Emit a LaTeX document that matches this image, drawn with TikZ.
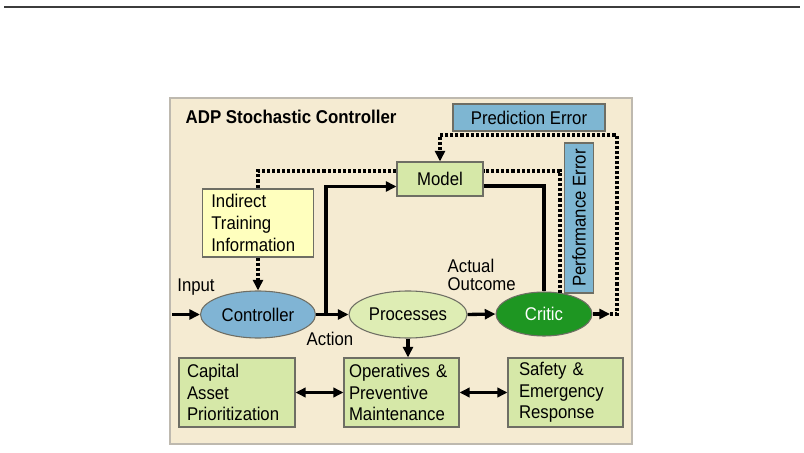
\documentclass[tikz,border=0pt]{standalone}
\usepackage{fontspec}
\setmainfont{Liberation Sans}[FakeStretch=0.91]
\usepackage{xcolor}
\usepackage{tikz}
\usetikzlibrary{shapes.geometric,arrows.meta,calc}

\definecolor{panelbg}{RGB}{245,235,210}
\definecolor{panelline}{RGB}{190,185,175}
\definecolor{boxline}{RGB}{110,110,100}
\definecolor{errblue}{RGB}{126,182,210}
\definecolor{ctrlblue}{RGB}{128,180,212}
\definecolor{unitgreen}{RGB}{214,232,168}
\definecolor{procgreen}{RGB}{222,237,180}
\definecolor{criticgreen}{RGB}{30,150,34}
\definecolor{infoyellow}{RGB}{255,255,190}

\tikzset{
  block/.style={draw=boxline, line width=0.8pt, inner ysep=0pt},
  errbox/.style={block, fill=errblue, inner xsep=0pt, minimum height=20.25pt},
  unitbox/.style={block, fill=unitgreen, align=left, minimum height=51.75pt,
    font=\fontsize{13.8}{16.1}\selectfont},
  blob/.style={ellipse, draw=boxline, line width=0.8pt, inner sep=0pt},
  flow/.style={line width=2.5pt, -{Triangle[length=8pt,width=7.5pt]}},
  twoway/.style={line width=2.5pt, {Triangle[length=7.5pt,width=7pt]}-{Triangle[length=7.5pt,width=7pt]}},
  link/.style={line width=2.5pt},
  fb/.style={line width=2.7pt, dash pattern=on 2.3pt off 1.5pt},
}

\begin{document}
\begin{tikzpicture}[x=0.75pt,y=0.75pt,yscale=-1,xscale=1,
    font=\fontsize{13.8}{16}\selectfont]
        \useasboundingbox (0,0) rectangle (804,453);
        \draw [color={rgb, 255:red, 60; green, 60; blue, 60 }, line width=1pt] (4,7) -- (800,7) ;
        \draw [fill=panelbg, draw=panelline, line width=0.8pt] (170,98) rectangle (632,444) ;

        % boxes and ellipses
        \node [anchor=west, font=\fontsize{13.9}{16}\selectfont\bfseries] (title) at (181,117) {ADP Stochastic Controller};
        \node [errbox, minimum width=114pt] (pred) at (529,117.5) {Prediction Error};
        \node [errbox, rotate=90, minimum width=112.5pt, minimum height=21.75pt] (perf) at (579,218) {Performance Error};
        \node [block, fill=unitgreen, minimum width=64.5pt, minimum height=25.5pt] (model) at (440,179) {Model};
        \node [block, fill=infoyellow, align=left, text width=70pt, inner xsep=6.5pt, minimum height=51pt,
               font=\fontsize{13.8}{16.5}\selectfont] (info) at (258,223) {Indirect\\Training\\Information};
        \node [blob, fill=ctrlblue, minimum width=86.25pt, minimum height=35.25pt] (ctrl) at (258,314.5) {Controller};
        \node [blob, fill=procgreen, minimum width=88.5pt, minimum height=35.25pt] (proc) at (408,314.5) {Processes};
        \node [blob, fill=criticgreen, text=white, minimum width=72pt, minimum height=33pt] (critic) at (544,314) {Critic};
        \node [unitbox, text width=75pt, inner xsep=6pt] (capital) at (237,392.5) {Capital\\Asset\\Prioritization};
        \node [unitbox, text width=78.75pt, inner xsep=3.75pt] (ops) at (401.5,392.5) {Operatives \&\\Preventive\\Maintenance};
        \node [unitbox, text width=69.75pt, inner xsep=8.25pt] (safety) at (565.5,392.5) {Safety \&\\Emergency\\Response};

        % labels
        \node (inlbl) at (196,287) {Input};
        \node (actlbl) at (330,339) {Action};
        \node [anchor=west, align=left, font=\fontsize{13.8}{13.5}\selectfont] (outlbl) at (443,274.5) {Actual\\Outcome};

        \coordinate (in) at (172,314.5);
        \coordinate (j) at (326,314.5);
        \coordinate (out) at (610,314);
        \coordinate (ptop) at (617,135);

        % solid paths
        \draw [flow] (in) -- (ctrl.west);
        \draw [flow] (ctrl.east) -- (proc.west);
        \draw [flow] (j) |- ($(model.west)+(0,7.5)$);
        \draw [link] ($(model.east)+(0,7)$) -| (critic.north);
        \draw [flow] (proc.east) -- (critic.west);
        \draw [flow] (critic.east) -- (out);
        \draw [flow] (proc.south) -- (proc.south |- ops.north);
        \draw [twoway] (capital.east) -- (ops.west);
        \draw [twoway] (ops.east) -- (safety.west);

        % dotted feedback
        \draw [fb, -{Triangle[length=8pt,width=7.5pt]}] (out) -| (ptop) -| (model.north);
        \draw [fb] (critic.53) |- ($(model.east)+(0,-8)$);
        \draw [fb] ($(model.west)+(0,-8)$) -| (info.north);
        \draw [fb, -{Triangle[length=8pt,width=7.5pt]}] (info.south) -- (ctrl.north);
    \end{tikzpicture}
\end{document}
